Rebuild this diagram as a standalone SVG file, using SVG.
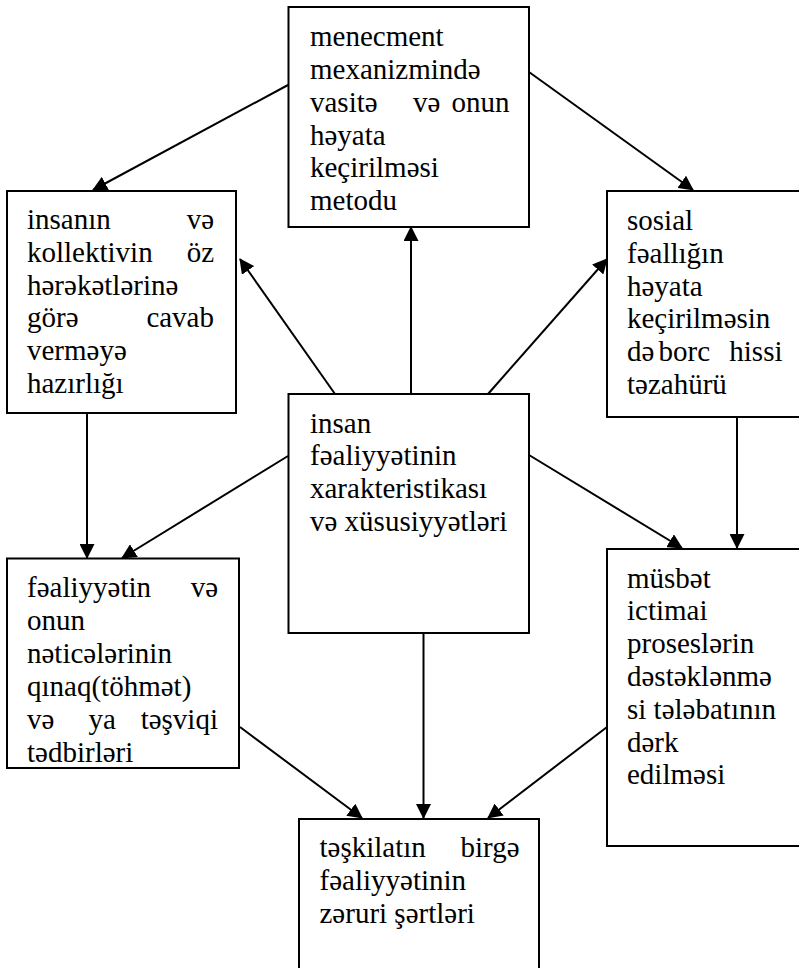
<svg xmlns="http://www.w3.org/2000/svg" width="799" height="968" viewBox="0 0 799 968">
  <style>
    .box { fill: #ffffff; stroke: #000000; stroke-width: 2; }
    .lbl { font-family: "Liberation Serif", "DejaVu Serif", serif; font-size: 29px; fill: #000000; }
    .end { text-anchor: end; }
    .conn line { stroke: #000000; stroke-width: 2; marker-end: url(#arrow); }
  </style>
  <defs>
    <marker id="arrow" markerUnits="userSpaceOnUse" markerWidth="15" markerHeight="15" viewBox="0 0 15 15" refX="14" refY="7.5" orient="auto">
      <path d="M0,0 L15,7.5 L0,15 Z" fill="#000000"/>
    </marker>
  </defs>

  <rect width="799" height="968" fill="#ffffff"/>

  <!-- connectors -->
  <g id="connectors" class="conn">
    <line x1="288" y1="85" x2="93" y2="190"/>
    <line x1="529" y1="72" x2="693" y2="190"/>
    <line x1="411" y1="394" x2="411" y2="227"/>
    <line x1="335" y1="394" x2="240" y2="259"/>
    <line x1="488" y1="394" x2="607" y2="259"/>
    <line x1="87" y1="413" x2="87" y2="558"/>
    <line x1="288" y1="456" x2="122" y2="558"/>
    <line x1="529" y1="455" x2="682" y2="548"/>
    <line x1="737" y1="417" x2="737" y2="548"/>
    <line x1="240" y1="727" x2="362" y2="818"/>
    <line x1="423.5" y1="633" x2="423.5" y2="818"/>
    <line x1="607" y1="727" x2="488" y2="818"/>
  </g>

  <!-- top: mechanism tools and methods -->
  <g id="node-top">
    <rect class="box" x="288.5" y="7" width="240.5" height="220"/>
    <text class="lbl" x="310" y="46">menecment</text>
    <text class="lbl" x="310" y="79">mexanizmində</text>
    <text class="lbl" y="112"><tspan x="310">vasitə</tspan><tspan x="413">və</tspan></text>
    <text class="lbl end" x="509.5" y="112">onun</text>
    <text class="lbl" x="310" y="144.5">həyata</text>
    <text class="lbl" x="310" y="177">keçirilməsi</text>
    <text class="lbl" x="310" y="210">metodu</text>
  </g>

  <!-- upper left: readiness to answer -->
  <g id="node-upper-left">
    <rect class="box" x="7" y="191" width="229" height="222"/>
    <text class="lbl" x="27" y="229">insanın</text>
    <text class="lbl end" x="214" y="229">və</text>
    <text class="lbl" x="27" y="262">kollektivin</text>
    <text class="lbl end" x="214" y="262">öz</text>
    <text class="lbl" x="27" y="294.5">hərəkətlərinə</text>
    <text class="lbl" x="27" y="327">görə</text>
    <text class="lbl end" x="214" y="327">cavab</text>
    <text class="lbl" x="27" y="360">verməyə</text>
    <text class="lbl" x="27" y="393">hazırlığı</text>
  </g>

  <!-- upper right: sense of duty -->
  <g id="node-upper-right">
    <rect class="box" x="607" y="191" width="210" height="226"/>
    <text class="lbl" x="627" y="230">sosial</text>
    <text class="lbl" x="627" y="262.5">fəallığın</text>
    <text class="lbl" x="627" y="295.5">həyata</text>
    <text class="lbl" x="627" y="328">keçirilməsin</text>
    <text class="lbl" y="361"><tspan x="627">də</tspan><tspan x="658.5">borc</tspan></text>
    <text class="lbl end" x="782.5" y="361">hissi</text>
    <text class="lbl" x="627" y="394">təzahürü</text>
  </g>

  <!-- centre: human activity -->
  <g id="node-center">
    <rect class="box" x="288.5" y="394" width="240.5" height="239"/>
    <text class="lbl" x="310" y="432.5">insan</text>
    <text class="lbl" x="310" y="465">fəaliyyətinin</text>
    <text class="lbl" x="310" y="498">xarakteristikası</text>
    <text class="lbl" x="310" y="531">və xüsusiyyətləri</text>
  </g>

  <!-- lower left: measures -->
  <g id="node-lower-left">
    <rect class="box" x="7" y="558.5" width="232" height="209.5"/>
    <text class="lbl" x="27" y="597">fəaliyyətin</text>
    <text class="lbl end" x="218" y="597">və</text>
    <text class="lbl" x="27" y="630">onun</text>
    <text class="lbl" x="27" y="663">nəticələrinin</text>
    <text class="lbl" x="27" y="695.5">qınaq(töhmət)</text>
    <text class="lbl" y="728.5"><tspan x="27">və</tspan><tspan x="88.5">ya</tspan></text>
    <text class="lbl end" x="218" y="728.5">təşviqi</text>
    <text class="lbl" x="27" y="761.5">tədbirləri</text>
  </g>

  <!-- lower right: awareness of need -->
  <g id="node-lower-right">
    <rect class="box" x="607" y="549" width="210" height="297"/>
    <text class="lbl" x="627" y="587.5">müsbət</text>
    <text class="lbl" x="627" y="620.3">ictimai</text>
    <text class="lbl" x="627" y="653">proseslərin</text>
    <text class="lbl" x="627" y="686">dəstəklənmə</text>
    <text class="lbl" x="627" y="718.7">si tələbatının</text>
    <text class="lbl" x="627" y="751.5">dərk</text>
    <text class="lbl" x="627" y="784.3">edilməsi</text>
  </g>

  <!-- bottom: necessary conditions -->
  <g id="node-bottom">
    <rect class="box" x="299" y="819" width="240" height="170"/>
    <text class="lbl" x="319.5" y="857">təşkilatın</text>
    <text class="lbl end" x="519.5" y="857">birgə</text>
    <text class="lbl" x="319.5" y="890">fəaliyyətinin</text>
    <text class="lbl" x="319.5" y="923">zəruri şərtləri</text>
  </g>
</svg>
